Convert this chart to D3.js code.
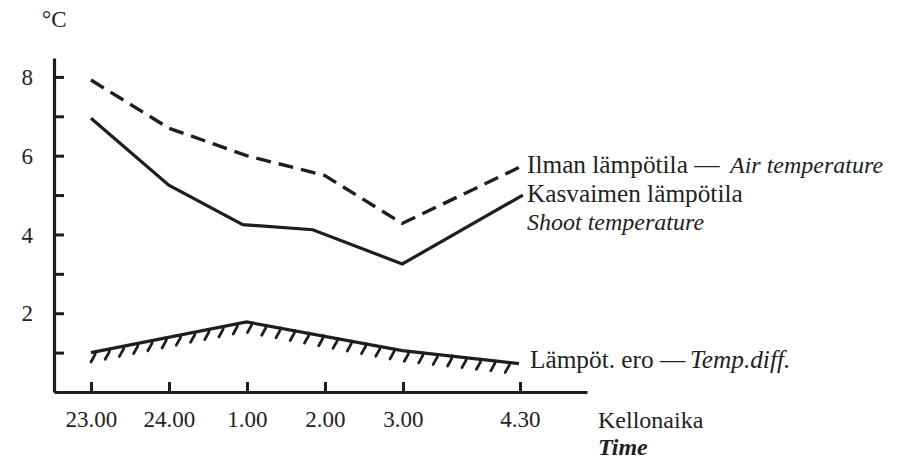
<!DOCTYPE html>
<html><head><meta charset="utf-8">
<script src="https://cdn.jsdelivr.net/npm/d3@7/dist/d3.min.js"></script>
<style>
html,body{margin:0;padding:0;background:#fff;}
</style></head>
<body>
<svg id="c" width="907" height="459" font-family="Liberation Serif"></svg>
<script>
// hours after 23.00
const tickHours = [0, 1, 2, 3, 4, 5.5];
const tickLabels = ["23.00", "24.00", "1.00", "2.00", "3.00", "4.30"];
const airHours = [0, 1, 2, 3, 4, 5.5];
const airTemp = [7.92, 6.7, 6.0, 5.5, 4.28, 5.7];
const shootHours = [0, 1, 1.95, 2.85, 4, 5.55];
const shootTemp = [6.95, 5.25, 4.25, 4.12, 3.25, 5.0];
const diffHours = [0, 2, 4, 5.5];
const diffTemp = [1.0, 1.78, 1.05, 0.72];
const yTicks = [1, 2, 3, 4, 5, 6, 7, 8];
const yLabelled = [2, 4, 6, 8];

const ink = "#1e1e1e";
const FONT = "Liberation Serif";
const svg = d3.select("#c");
const x = d3.scaleLinear().domain([0, 5.5]).range([91, 519]);
const y = d3.scaleLinear().domain([0, 8.48]).range([392, 58]);

// axes
const yAxis = d3.axisLeft(y).tickValues(yTicks).tickSize(-10).tickSizeOuter(0).tickPadding(21)
  .tickFormat(d => yLabelled.includes(d) ? d : "");
const gy = svg.append("g").attr("transform", "translate(54,0)").call(yAxis);
const xAxisScale = d3.scaleLinear().domain([-0.474, 6.359]).range([54, 587]);
const xAxis = d3.axisBottom(xAxisScale).tickValues(tickHours).tickSize(-10).tickSizeOuter(0).tickPadding(19)
  .tickFormat((d, i) => tickLabels[i]);
const gx = svg.append("g").attr("transform", "translate(0,392)").call(xAxis);
[gx, gy].forEach(g => {
  g.attr("font-family", FONT);
  g.select(".domain").attr("stroke", ink).attr("stroke-width", 3.2);
  g.selectAll(".tick line").attr("stroke", ink).attr("stroke-width", 3);
  g.selectAll(".tick text").attr("font-family", FONT).attr("font-size", 23).attr("fill", "#222");
});
gy.selectAll(".tick text").attr("dy", "0.33em");

const line = d3.line().x(d => x(d[0])).y(d => y(d[1]));
const air = airHours.map((h, i) => [h, airTemp[i]]);
const shoot = shootHours.map((h, i) => [h, shootTemp[i]]);
const diff = diffHours.map((h, i) => [h, diffTemp[i]]);

svg.append("path").attr("d", line(air)).attr("fill", "none").attr("stroke", ink)
  .attr("stroke-width", 3.4).attr("stroke-dasharray", "15,8");
svg.append("path").attr("d", line(shoot)).attr("fill", "none").attr("stroke", ink)
  .attr("stroke-width", 3.2);
const dp = svg.append("path").attr("d", line(diff)).attr("fill", "none").attr("stroke", ink)
  .attr("stroke-width", 3.2);

// hatch marks under the difference line
const node = dp.node();
const L = node.getTotalLength();
const hatch = [];
for (let s = 3; s < L - 2; s += 14.5) {
  hatch.push(node.getPointAtLength(s));
}
svg.append("g").selectAll("path").data(hatch).join("path")
  .attr("d", p => `M${p.x + 1.5},${p.y} q0,3 -2,5.5 l-2.5,4.5`)
  .attr("fill", "none").attr("stroke", ink).attr("stroke-width", 2.8).attr("stroke-linecap", "round");

// texts
function txt(xp, yp, size) {
  return svg.append("text").attr("x", xp).attr("y", yp).attr("font-size", size)
    .attr("fill", "#222").attr("font-family", FONT);
}
txt(42, 27, 23).text("°C");
const t1 = txt(527, 173, 25.3);
t1.append("tspan").text("Ilman lämpötila —");
t1.append("tspan").attr("x", 730).attr("font-size", 24).attr("font-style", "italic").text("Air temperature");
txt(527, 202, 25.3).text("Kasvaimen lämpötila");
txt(527, 230, 24).attr("font-style", "italic").text("Shoot temperature");
const t2 = txt(530, 368, 25.3);
t2.append("tspan").text("Lämpöt. ero —");
t2.append("tspan").attr("x", 690).attr("font-style", "italic").text("Temp.diff.");
txt(598, 428, 24).text("Kellonaika");
txt(598, 455, 24).attr("font-style", "italic").attr("font-weight", "bold").text("Time");
</script>
</body></html>
